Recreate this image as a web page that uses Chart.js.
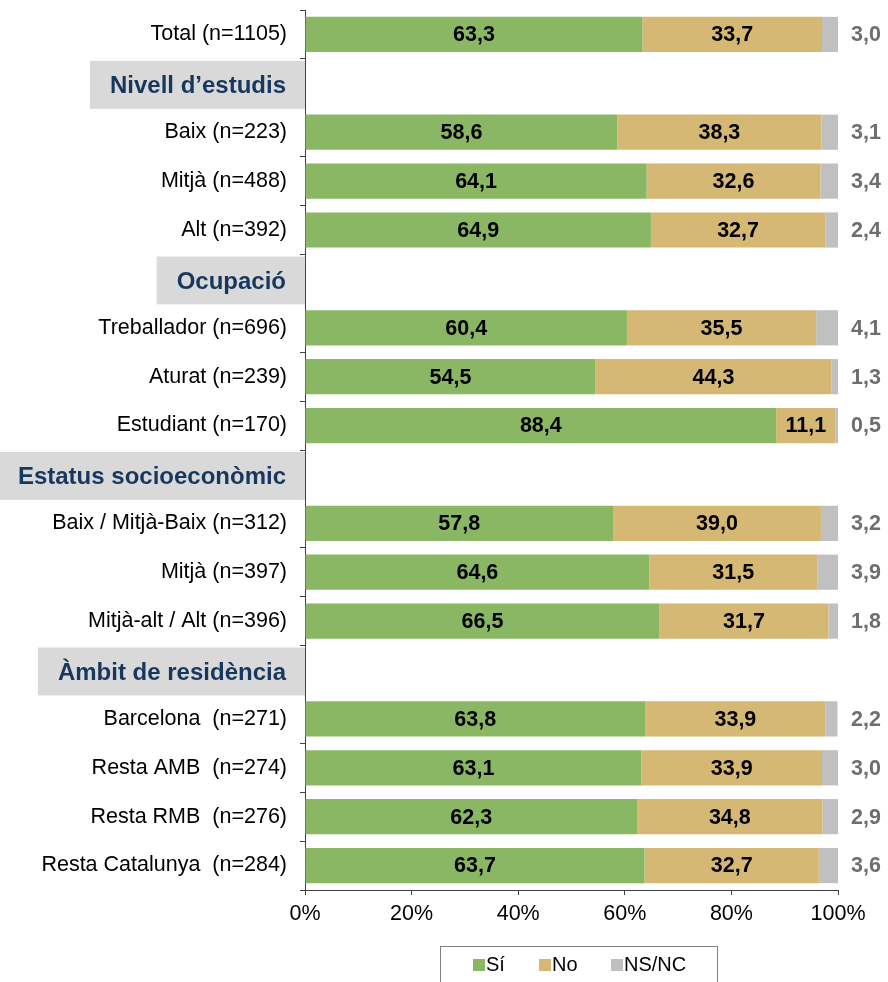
<!DOCTYPE html>
<html>
<head>
<meta charset="utf-8">
<script src="https://cdn.jsdelivr.net/npm/chart.js@4/dist/chart.umd.min.js"></script>
<style>
    html, body { margin: 0; padding: 0; background: #ffffff; }
    canvas { display: block; }
</style>
</head>
<body>
<canvas id="enquesta" width="888" height="982"></canvas>
<script>
// Rows, top to bottom. Header rows have no bars.
const categories = [
    "Total (n=1105)",
    "Nivell d’estudis",
    "Baix (n=223)",
    "Mitjà (n=488)",
    "Alt (n=392)",
    "Ocupació",
    "Treballador (n=696)",
    "Aturat (n=239)",
    "Estudiant (n=170)",
    "Estatus socioeconòmic",
    "Baix / Mitjà-Baix (n=312)",
    "Mitjà (n=397)",
    "Mitjà-alt / Alt (n=396)",
    "Àmbit de residència",
    "Barcelona  (n=271)",
    "Resta AMB  (n=274)",
    "Resta RMB  (n=276)",
    "Resta Catalunya  (n=284)"
];
const headerRows = [1, 5, 9, 13];

const valuesSi   = [63.3, null, 58.6, 64.1, 64.9, null, 60.4, 54.5, 88.4, null, 57.8, 64.6, 66.5, null, 63.8, 63.1, 62.3, 63.7];
const valuesNo   = [33.7, null, 38.3, 32.6, 32.7, null, 35.5, 44.3, 11.1, null, 39.0, 31.5, 31.7, null, 33.9, 33.9, 34.8, 32.7];
const valuesNsnc = [3.0,  null, 3.1,  3.4,  2.4,  null, 4.1,  1.3,  0.5,  null, 3.2,  3.9,  1.8,  null, 2.2,  3.0,  2.9,  3.6];

const seriesNames = ["Sí", "No", "NS/NC"];
const xTicks = [0, 20, 40, 60, 80, 100];

const FONT = "'Liberation Sans', Arial, sans-serif";

function fmt(v) {
    return v.toFixed(1).replace(".", ",");
}

// value labels: inside the bar for Sí / No, right of the chart for NS/NC
const valueLabels = {
    id: "valueLabels",
    afterDatasetsDraw(chart) {
        const ctx = chart.ctx;
        const xScale = chart.scales.x;
        ctx.save();
        ctx.font = "bold 21.5px " + FONT;
        ctx.textBaseline = "middle";
        chart.data.datasets.forEach((ds, di) => {
            const meta = chart.getDatasetMeta(di);
            meta.data.forEach((bar, i) => {
                const v = ds.data[i];
                if (v === null || v === undefined) return;
                if (di < 2) {
                    ctx.fillStyle = "#000000";
                    ctx.textAlign = "center";
                    ctx.fillText(fmt(v), (bar.x + bar.base) / 2, bar.y + 1);
                } else {
                    ctx.fillStyle = "#6e6e6e";
                    ctx.textAlign = "left";
                    ctx.fillText(fmt(v), xScale.getPixelForValue(100) + 13, bar.y + 1);
                }
            });
        });
        ctx.restore();
    }
};

// grey boxes with the group titles, drawn over the axis line
const groupHeaders = {
    id: "groupHeaders",
    afterDraw(chart) {
        const ctx = chart.ctx;
        const yScale = chart.scales.y;
        const band = yScale.getPixelForValue(1) - yScale.getPixelForValue(0);
        const right = chart.chartArea.left;
        ctx.save();
        ctx.font = "bold 24px " + FONT;
        ctx.textBaseline = "middle";
        ctx.textAlign = "right";
        headerRows.forEach(i => {
            const y = yScale.getPixelForValue(i);
            const w = ctx.measureText(categories[i]).width;
            const left = Math.max(0, right - 19 - w - 20);
            ctx.fillStyle = "#d9d9d9";
            ctx.fillRect(left, y - band / 2 + 2, right - left, band - 1);
            ctx.fillStyle = "#17375e";
            ctx.fillText(categories[i], right - 19, y + 3);
        });
        ctx.restore();
    }
};

// boxed legend under the axis
const boxedLegend = {
    id: "boxedLegend",
    afterDraw(chart) {
        const ctx = chart.ctx;
        const box = { x: 440.5, y: 946.5, w: 277, h: 40 };
        ctx.save();
        ctx.strokeStyle = "#808080";
        ctx.lineWidth = 1;
        ctx.strokeRect(box.x, box.y, box.w, box.h);
        ctx.font = "20px " + FONT;
        ctx.textBaseline = "middle";
        ctx.textAlign = "left";
        const starts = [473, 539, 611];
        chart.data.datasets.forEach((ds, di) => {
            const x = starts[di];
            ctx.fillStyle = ds.backgroundColor;
            ctx.fillRect(x, 959, 12, 12);
            ctx.fillStyle = "#000000";
            ctx.fillText(ds.label, x + 13, 965);
        });
        ctx.restore();
    }
};

const ctx = document.getElementById("enquesta").getContext("2d");

new Chart(ctx, {
    type: "bar",
    data: {
        labels: categories,
        datasets: [
            { label: seriesNames[0], data: valuesSi,   backgroundColor: "#8ab764" },
            { label: seriesNames[1], data: valuesNo,   backgroundColor: "#d5b873" },
            { label: seriesNames[2], data: valuesNsnc, backgroundColor: "#c0c0c0" }
        ]
    },
    options: {
        indexAxis: "y",
        responsive: false,
        animation: false,
        maintainAspectRatio: false,
        datasets: {
            bar: { barPercentage: 0.72, categoryPercentage: 1.0 }
        },
        layout: {
            padding: { top: 10, right: 50, bottom: 0, left: 0 }
        },
        plugins: {
            legend: { display: false },
            tooltip: { enabled: false }
        },
        scales: {
            x: {
                stacked: true,
                min: 0,
                max: 100,
                afterBuildTicks(scale) {
                    scale.ticks = xTicks.map(v => ({ value: v }));
                },
                afterFit(scale) {
                    scale.height = 92;
                },
                grid: {
                    drawOnChartArea: false,
                    drawTicks: true,
                    tickLength: 5,
                    color: "#404040"
                },
                border: { color: "#404040", width: 1 },
                ticks: {
                    padding: 6,
                    color: "#000000",
                    font: { family: FONT, size: 21.5 },
                    callback: v => v + "%"
                }
            },
            y: {
                stacked: true,
                afterFit(scale) {
                    scale.width = 305;
                    scale.paddingTop = 0;
                    scale.paddingBottom = 0;
                },
                grid: {
                    offset: true,
                    drawOnChartArea: false,
                    drawTicks: true,
                    tickLength: 5,
                    color: "#404040"
                },
                border: { color: "#404040", width: 1 },
                ticks: {
                    autoSkip: false,
                    padding: 13,
                    color: "#000000",
                    font: { family: FONT, size: 21.5 },
                    callback: function (value, index) {
                        return headerRows.includes(index) ? "" : categories[index];
                    }
                }
            }
        }
    },
    plugins: [valueLabels, groupHeaders, boxedLegend]
});
</script>
</body>
</html>
